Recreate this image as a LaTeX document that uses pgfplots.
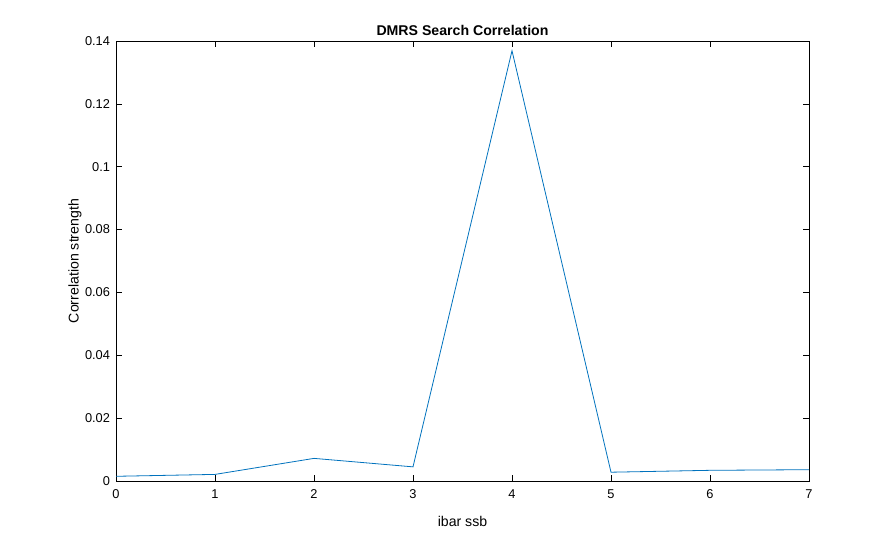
\documentclass[border=0pt]{standalone}
\usepackage{fontspec}
\setmainfont{Liberation Sans}
\usepackage{pgfplots}
\pgfplotsset{compat=1.18}
\definecolor{mblue}{RGB}{0,114,189}
\begin{document}
\begin{tikzpicture}
\path[use as bounding box] (0pt,0pt) rectangle (671.25pt,405pt);
\begin{axis}[
  at={(87pt,44.25pt)}, anchor=south west,
  scale only axis,
  width=519.75pt, height=330pt,
  xmin=0, xmax=7, ymin=0, ymax=0.14,
  xtick={0,1,2,3,4,5,6,7},
  ytick={0,0.02,0.04,0.06,0.08,0.1,0.12,0.14},
  yticklabels={0,0.02,0.04,0.06,0.08,0.1,0.12,0.14},
  scaled y ticks=false,
  tick align=inside,
  major tick length=4.5pt,
  tick style={black, line width=0.5pt},
  axis line style={black, line width=0.5pt},
  /pgf/number format/assume math mode=true,
  tick label style={font=\fontsize{9.6}{11}\selectfont},
  xticklabel style={yshift=-3pt},
  yticklabel style={xshift=-1pt},
  title={\textbf{DMRS Search Correlation}},
  title style={font=\fontsize{10.6}{12}\selectfont, at={(0.5,1)}, anchor=south, yshift=-5.5pt},
  xlabel={ibar ssb},
  ylabel={Correlation strength},
  label style={font=\fontsize{10.6}{12}\selectfont},
  xlabel style={yshift=-6pt},
  ylabel style={yshift=-4.25pt},
]
\addplot[color=mblue, line width=0.6pt, mark=none] coordinates {
(0,0.0015) (1,0.0021) (2,0.0072) (3,0.0045) (4,0.1369) (5,0.0028) (6,0.0034) (7,0.0036)
};
\end{axis}
\end{tikzpicture}
\end{document}
